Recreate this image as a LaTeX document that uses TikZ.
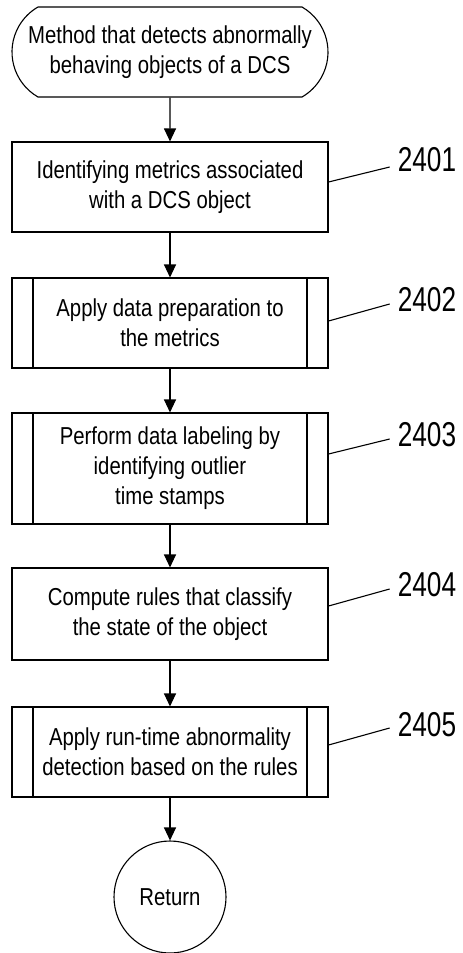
\documentclass[tikz,border=0pt]{standalone}
\usepackage{fontspec}
\setmainfont{Liberation Sans}[FakeStretch=0.83]
\newfontfamily\labfont{Liberation Sans}[FakeStretch=0.76]
\usetikzlibrary{arrows.meta,shapes.misc}
\tikzset{
  every node/.style={font=\fontsize{24.5}{30}\selectfont},
  boxstyle/.style={draw,line width=1.1pt,minimum width=316pt,align=center,inner sep=0pt},
  predef/.style={boxstyle,path picture={
     \draw[line width=1.1pt] ([xshift=21pt]path picture bounding box.north west) -- ([xshift=21pt]path picture bounding box.south west);
     \draw[line width=1.1pt] ([xshift=-21pt]path picture bounding box.north east) -- ([xshift=-21pt]path picture bounding box.south east);}},
  termstyle/.style={draw,line width=1.1pt,rounded rectangle,rounded rectangle arc length=120,minimum width=316pt,minimum height=90pt,align=center,inner sep=0pt},
  circstyle/.style={draw,line width=1.1pt,circle,minimum size=112pt,inner sep=0pt},
  lab/.style={font=\labfont\fontsize{34.5}{38}\selectfont,inner sep=0pt},
  arr/.style={line width=1.1pt,-{Triangle[width=12pt,length=13pt]}},
  leader/.style={line width=1.1pt}
}
\begin{document}
\begin{tikzpicture}[x=1pt,y=-1pt]
\useasboundingbox (0,0) rectangle (463,953);
\node[termstyle] (t) at (170,52) {Method that detects abnormally\\behaving objects of a DCS};
\node[boxstyle,minimum height=90pt] (b1) at (170,187) {Identifying metrics associated\\with a DCS object};
\node[predef,minimum height=90pt] (b2) at (170,323) {Apply data preparation to\\the metrics};
\node[predef,minimum height=111pt] (b3) at (170,468.5) {Perform data labeling by\\identifying outlier\\time stamps};
\node[boxstyle,minimum height=92pt] (b4) at (170,614) {Compute rules that classify\\the state of the object};
\node[predef,minimum height=90pt] (b5) at (170,752) {Apply run-time abnormality\\detection based on the rules};
\node[circstyle] (r) at (170,897) {Return};

\draw[arr] (t) -- (b1);
\draw[arr] (b1) -- (b2);
\draw[arr] (b2) -- (b3);
\draw[arr] (b3) -- (b4);
\draw[arr] (b4) -- (b5);
\draw[arr] (b5) -- (r);

\node[lab] (l1) at (427,160) {2401};
\node[lab] (l2) at (427,300) {2402};
\node[lab] (l3) at (427,435) {2403};
\node[lab] (l4) at (427,585) {2404};
\node[lab] (l5) at (427,725) {2405};

\draw[leader] ([yshift=5pt]b1.east) -- ([shift={(-8pt,-7pt)}]l1.west);
\draw[leader] ([yshift=2pt]b2.east) -- ([shift={(-8pt,-4pt)}]l2.west);
\draw[leader] ([yshift=14.5pt]b3.east) -- ([shift={(-8pt,-4pt)}]l3.west);
\draw[leader] ([yshift=8pt]b4.east) -- ([shift={(-8pt,-4pt)}]l4.west);
\draw[leader] ([yshift=7pt]b5.east) -- ([shift={(-8pt,-3pt)}]l5.west);
\end{tikzpicture}
\end{document}
